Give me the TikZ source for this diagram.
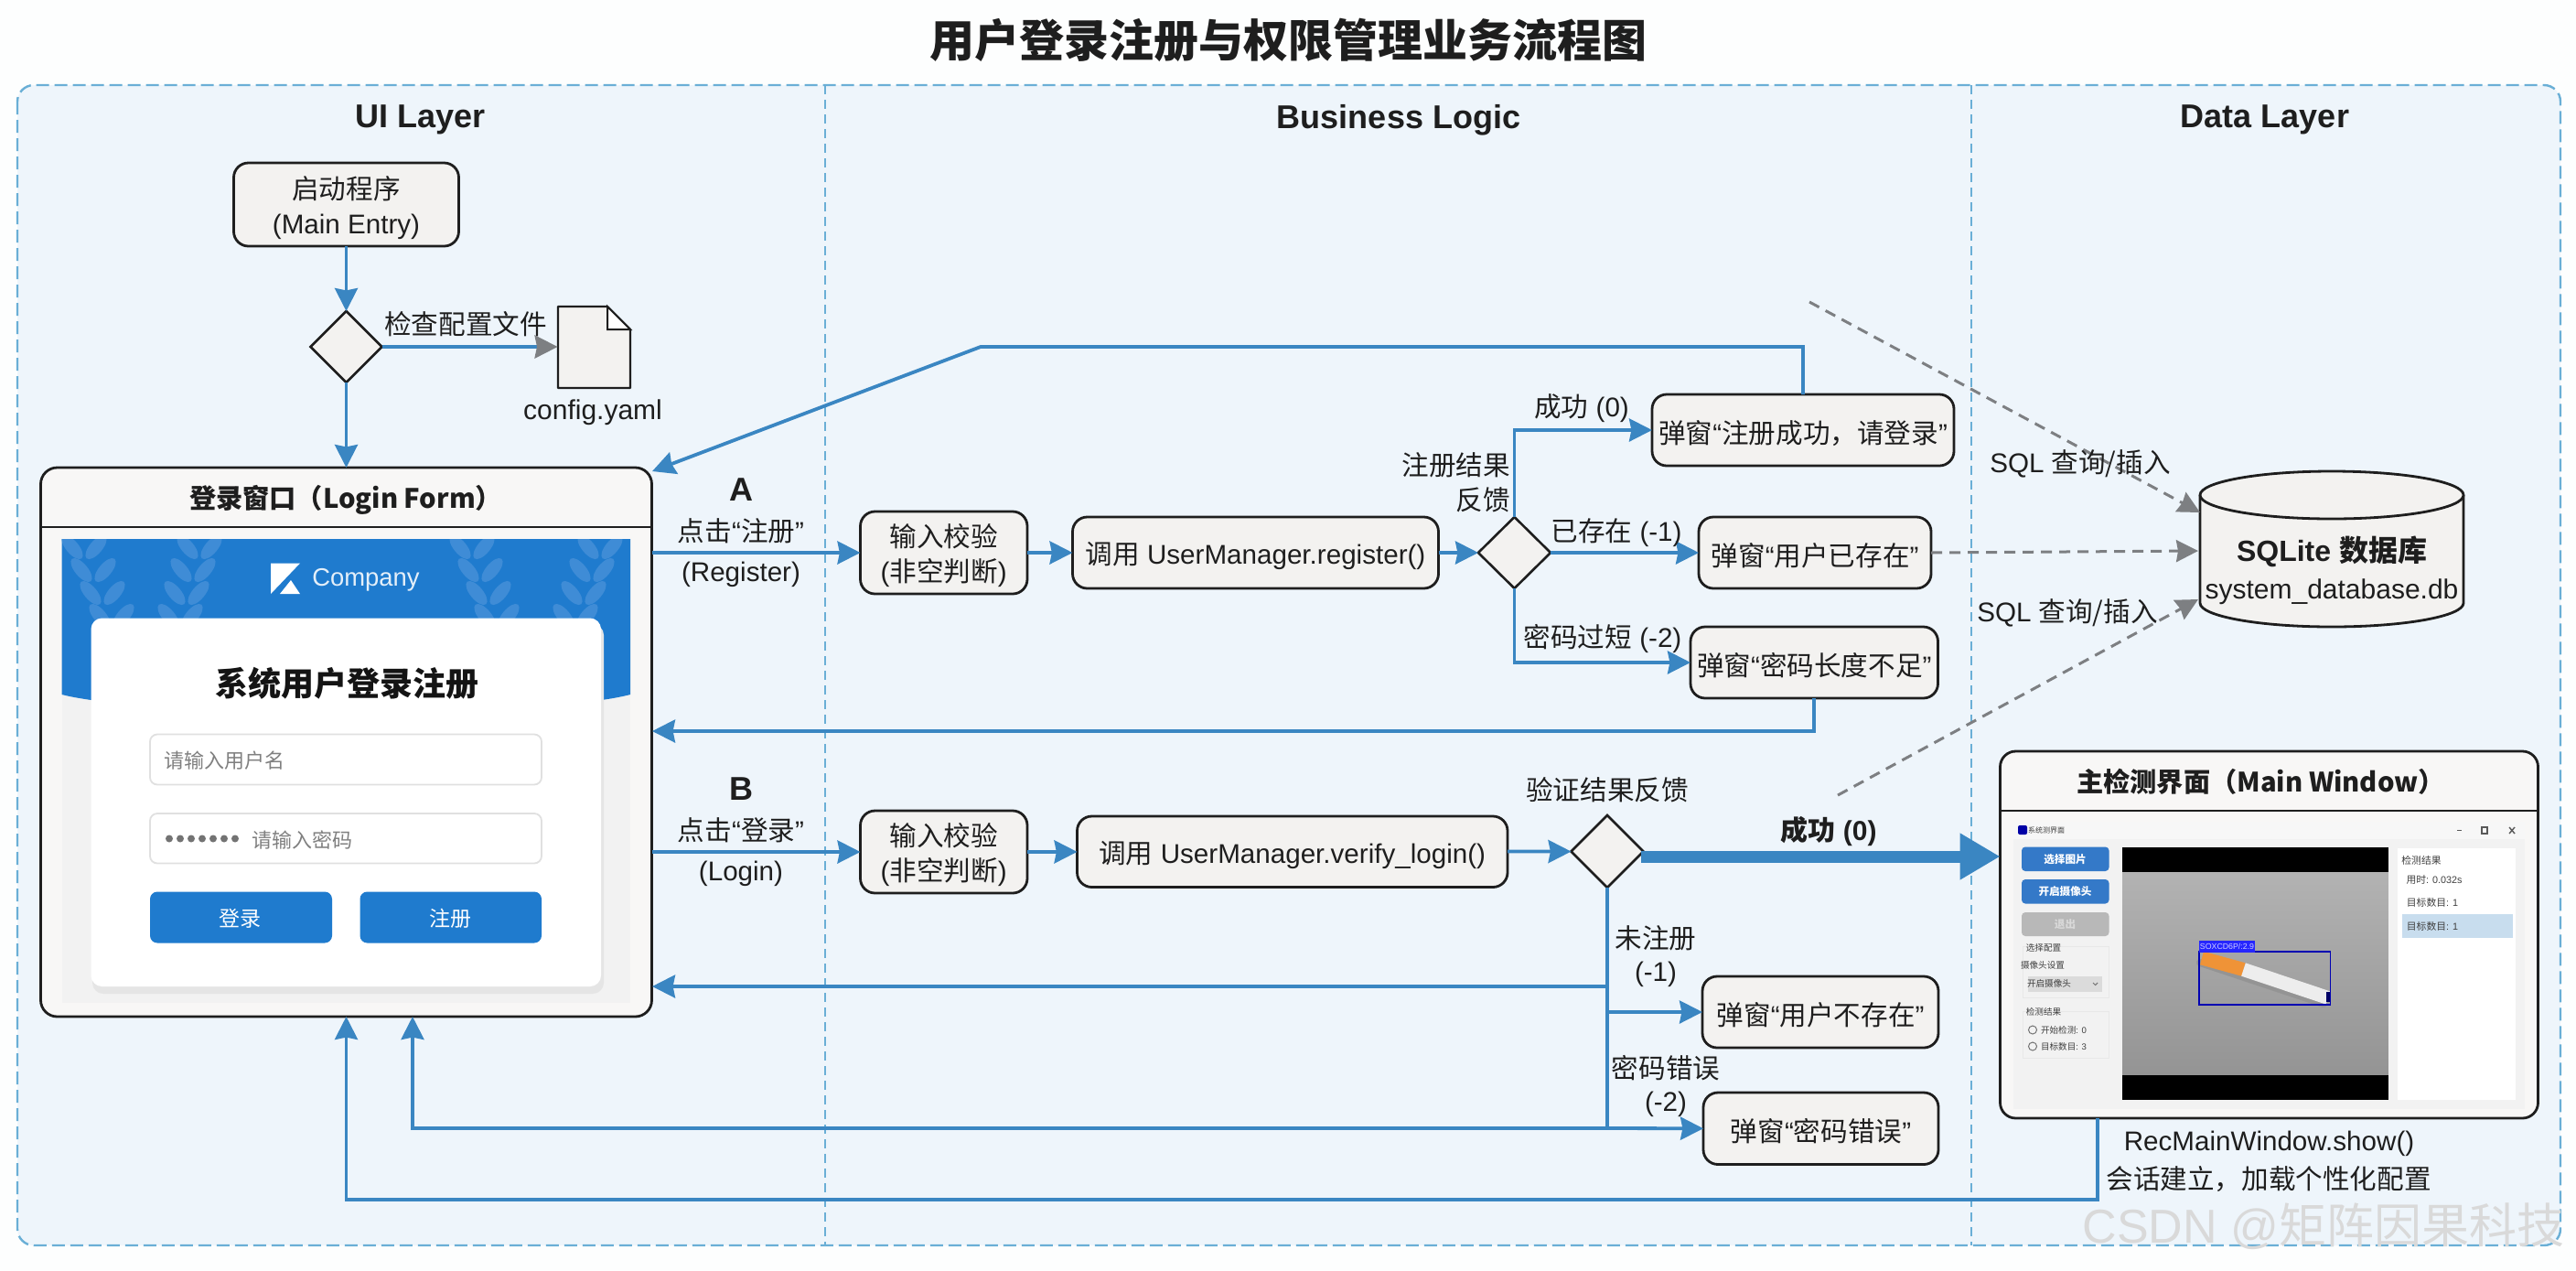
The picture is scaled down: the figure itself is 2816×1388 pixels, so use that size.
\documentclass[tikz,border=0pt]{standalone}
\usepackage{fontspec}
\setmainfont{Liberation Sans}
\newfontfamily\cjk{Noto Sans CJK SC}
\usetikzlibrary{arrows.meta,shapes.geometric,calc}
\newcommand\zh[1]{{\cjk #1}}
\newcommand\lf{\fontsize{14.8}{19}\selectfont}
\definecolor{pagebg}{HTML}{FDFEFE}
\definecolor{panelbg}{HTML}{EEF5FB}
\definecolor{framec}{HTML}{6AAFD6}
\definecolor{flowc}{HTML}{3A86C2}
\definecolor{boxfill}{HTML}{F3F2F0}
\definecolor{inkc}{HTML}{1E1E1E}
\definecolor{grayc}{HTML}{7D7F82}
\definecolor{hdrblue}{HTML}{1F7BCE}
\definecolor{leafc}{HTML}{3F8CD6}
\tikzset{
  flowbox/.style={draw=inkc,fill=boxfill,line width=1.4pt,rounded corners=8pt,inner sep=0pt,outer sep=0pt,align=center,font=\lf,text=inkc},
  flowdiamond/.style={draw=inkc,fill=boxfill,line width=1.3pt,diamond,inner sep=0pt,outer sep=0pt},
  lab/.style={inner sep=0pt,outer sep=0pt,font=\lf,text=inkc,align=center},
  head/.style={inner sep=0pt,font=\fontsize{18}{22}\selectfont\bfseries,text=inkc},
  flow/.style={draw=flowc,line width=1.9pt,-{Stealth[length=12.5pt,width=12.5pt,inset=1.2pt]}},
  flowline/.style={draw=flowc,line width=1.9pt},
  sqlarrow/.style={draw=grayc,line width=1.5pt,dash pattern=on 6pt off 4pt,-{Stealth[length=12pt,width=12pt,inset=1pt,color=grayc]}},
  ui/.style={inner sep=0pt,outer sep=0pt,font=\fontsize{4.8}{6}\selectfont,text=black!75},
  uir/.style={inner sep=0pt,outer sep=0pt,font=\fontsize{5.4}{6}\selectfont,text=black!75},
  uibtn/.style={inner sep=0pt,outer sep=0pt,font=\fontsize{5.8}{7}\selectfont\bfseries,text=white},
  leaf/.style={fill=leafc},
}
\newcommand\flowbx[6]{\node[flowbox,minimum width={(#4-#2)*0.5pt},minimum height={(#5-#3)*0.5pt}] (#1) at ({(#2+#4)/2},{(#3+#5)/2}) {\rule{0pt}{15.6pt}#6};}
\begin{document}
\begin{tikzpicture}[x=0.5pt,y=-0.5pt]
\useasboundingbox (0,0) rectangle (2816,1388);
\fill[pagebg] (0,0) rectangle (2816,1388);
% frame and lanes
\draw[framec,fill=panelbg,line width=1.2pt,dash pattern=on 7pt off 3pt,rounded corners=9pt] (19,93) rectangle (2799,1361);
\draw[framec,line width=.8pt,dash pattern=on 5pt off 3pt] (902,93) -- (902,1361);
\draw[framec,line width=.8pt,dash pattern=on 5pt off 3pt] (2155,93) -- (2155,1361);
% titles
\node[inner sep=0pt,font=\fontsize{24.5}{28}\selectfont\bfseries,text=inkc] (title) at (1408,44) {\zh{用户登录注册与权限管理业务流程图}};
\node[head] (laneA) at (460,131) {UI Layer};
\node[head] (laneB) at (1529,131) {Business Logic};
\node[head] (laneC) at (2476,131) {Data Layer};

% start
\flowbx{start}{255.5}{178}{501.5}{269}{\zh{启动程序}\\(Main Entry)}
\node[flowdiamond,minimum width=39pt,minimum height=39pt] (d0) at (378.5,379) {};
\node[lab] (chk) at (509,354) {\zh{检查配置文件}};
\node[inner sep=0pt,minimum width=39.5pt,minimum height=44pt] (doc) at (649.5,379) {};
\draw[draw=inkc,fill=boxfill,line width=1.2pt,line join=round] (610,335) -- (664,335) -- (689,360) -- (689,424) -- (610,424) -- cycle;
\draw[draw=inkc,line width=1pt,fill=white] (664,335) -- (664,360) -- (689,360) -- cycle;
\node[lab,font=\fontsize{15}{18}\selectfont] (cfg) at (648,451) {config.yaml};

% login form
\node[draw=inkc,fill=boxfill!60!white,line width=1.4pt,rounded corners=9pt,inner sep=0pt,outer sep=0pt,minimum width=334pt,minimum height=300pt] (form) at (378.5,811) {};
\draw[inkc,line width=1.2pt] (44.5,576) -- (712.5,576);
\node[inner sep=0pt,font=\fontsize{14.6}{18}\selectfont\bfseries,text=inkc] (formt) at (378,546) {\zh{登录窗口（Login Form）}};
\fill[black!5] (67.5,589) rectangle (689,1096);
\path[fill=hdrblue] (67.5,589) -- (689,589) -- (689,759) .. controls (590,785) and (170,785) .. (67.5,759) -- cycle;
\begin{scope}
\clip (67.5,589) rectangle (689,780);
\foreach \sx/\sl in {92/10,218/-7,516/9,656/-9}{
  \foreach \t in {0,...,3}{
    \pgfmathsetmacro\cx{\sx+\sl*\t}
    \pgfmathsetmacro\cy{598+25*\t}
    \fill[leaf,rotate around={-50:(\cx-13,\cy)}] (\cx-13,\cy) ellipse [x radius=16,y radius=7];
    \fill[leaf,rotate around={50:(\cx+13,\cy)}] (\cx+13,\cy) ellipse [x radius=16,y radius=7];
  }
}
\end{scope}
\fill[white] (296,615.5) -- (328,615.5) -- (296,649) -- cycle;
\fill[white] (306,649) -- (328,649) -- (318,634) -- cycle;
\node[inner sep=0pt,font=\fontsize{13.7}{16}\selectfont,text=white!88!hdrblue] (company) at (400,634) {Company};
\fill[black!10,rounded corners=6pt] (101,682) rectangle (660,1086);
\fill[white,rounded corners=6pt] (99.5,675.5) rectangle (657,1078);
\node[inner sep=0pt,font=\fontsize{18}{21}\selectfont\bfseries,text=black!92] (cardt) at (379,747) {\zh{系统用户登录注册}};
\draw[black!12,fill=white,line width=.9pt,rounded corners=4pt] (164,802.5) rectangle (592,857.5);
\draw[black!12,fill=white,line width=.9pt,rounded corners=4pt] (164,889) rectangle (592,943.5);
\node[inner sep=0pt,font=\fontsize{11}{13}\selectfont,text=black!50] (ph1) at (245.5,831) {\zh{请输入用户名}};
\node[inner sep=0pt,font=\fontsize{11}{13}\selectfont,text=black!50] (ph2) at (330,918) {\zh{请输入密码}};
\foreach \dx in {0,1,...,6}{\fill[black!55] ({185+12*\dx},916.5) circle (4);}
\fill[hdrblue,rounded corners=4pt] (164,974.5) rectangle (363,1030.5);
\fill[hdrblue,rounded corners=4pt] (393.5,974.5) rectangle (592,1030.5);
\node[inner sep=0pt,font=\fontsize{11.5}{13}\selectfont,text=white] (blogin) at (262.5,1004) {\zh{登录}};
\node[inner sep=0pt,font=\fontsize{11.5}{13}\selectfont,text=white] (breg) at (492.5,1004) {\zh{注册}};

% register row
\flowbx{chkA}{940.5}{559}{1123}{649}{\zh{输入校验}\\(\zh{非空判断})}
\flowbx{regcall}{1172.5}{565}{1572.5}{643}{\zh{调用} UserManager.register()}
\node[flowdiamond,minimum width=39.5pt,minimum height=39pt] (d1) at (1655.5,604) {};
\flowbx{ok}{1806}{431}{2136}{509}{\zh{弹窗}“\zh{注册成功，请登录}”}
\flowbx{exists}{1857}{565}{2111}{643}{\zh{弹窗}“\zh{用户已存在}”}
\flowbx{short}{1848}{685}{2118.5}{763}{\zh{弹窗}“\zh{密码长度不足}”}

% login row
\flowbx{chkB}{940.5}{886}{1123}{976}{\zh{输入校验}\\(\zh{非空判断})}
\flowbx{vercall}{1177.5}{892}{1648}{969.5}{\zh{调用} UserManager.verify\_login()}
\node[flowdiamond,minimum width=39.5pt,minimum height=39.5pt] (d2) at (1757,930.5) {};
\flowbx{nouser}{1861}{1067}{2119}{1145}{\zh{弹窗}“\zh{用户不存在}”}
\flowbx{pwerr}{1862}{1194}{2119}{1272.5}{\zh{弹窗}“\zh{密码错误}”}

% database
\node[inner sep=0pt,minimum width=144pt,minimum height=85pt] (db) at (2549,600) {};
\draw[draw=inkc,fill=boxfill,line width=1.4pt] (2405,541) -- (2405,659) arc[start angle=180,end angle=360,x radius=144,y radius=-26] -- (2693,541);
\draw[draw=inkc,fill=boxfill,line width=1.4pt] (2549,541) ellipse [x radius=144,y radius=26];
\node[inner sep=0pt,font=\fontsize{16}{19}\selectfont\bfseries,text=inkc] (dbt) at (2549,603) {SQLite \zh{数据库}};
\node[lab,font=\fontsize{15}{18}\selectfont] (dbf) at (2549,647) {system\_database.db};

% main window
\node[draw=inkc,fill=boxfill!60!white,line width=1.4pt,rounded corners=8.5pt,inner sep=0pt,outer sep=0pt,minimum width=294pt,minimum height=200.5pt] (main) at (2480.5,1021.5) {};
\draw[inkc,line width=1.2pt] (2186.5,886) -- (2774.5,886);
\node[inner sep=0pt,font=\fontsize{14.6}{18}\selectfont\bfseries,text=inkc] (maint) at (2471.5,854) {\zh{主检测界面（Main Window）}};
\fill[black!5] (2201,898) rectangle (2759.5,1212);
\fill[white!97!black] (2201,898) rectangle (2759.5,917);
\fill[blue!65!black,rounded corners=1pt] (2206,902) rectangle (2216,912);
\node[ui,font=\fontsize{4}{5}\selectfont] (wint) at (2237,907.5) {\zh{系统测界面}};
\draw[black!65,line width=.6pt] (2686,907.5) -- (2691,907.5);
\draw[black!65,line width=.7pt] (2713,904) rectangle (2719,911);
\draw[black!65,line width=.7pt] (2743,904) -- (2749,911) (2749,904) -- (2743,911);
\fill[flowc!90!blue,rounded corners=2pt] (2210,925.5) rectangle (2305.5,952);
\fill[flowc!90!blue,rounded corners=2pt] (2210,961) rectangle (2305.5,987.5);
\fill[black!28,rounded corners=2pt] (2210,997) rectangle (2305.5,1023);
\node[uibtn] (b1) at (2257.5,939) {\zh{选择图片}};
\node[uibtn] (b2) at (2257.5,974.5) {\zh{开启摄像头}};
\node[uibtn,text=white!85!black] (b3) at (2257.5,1010) {\zh{退出}};
\draw[black!9,line width=.5pt] (2211.5,1034) rectangle (2305,1090);
\draw[black!9,line width=.5pt] (2211.5,1105) rectangle (2305,1156);
\node[ui] (c1) at (2234,1036) {\zh{选择配置}};
\node[ui] (c2) at (2233,1055) {\zh{摄像头设置}};
\fill[black!14] (2217,1066.5) rectangle (2298,1084);
\node[ui] (c3) at (2240,1075) {\zh{开启摄像头}};
\draw[black!55,line width=.5pt] (2288,1074) -- (2290.5,1076.5) -- (2293,1074);
\node[ui] (c4) at (2234,1105.5) {\zh{检测结果}};
\draw[black!55,line width=.5pt] (2222,1125.5) circle (4.5);
\draw[black!55,line width=.5pt] (2222,1143.5) circle (4.5);
\node[ui] (c5) at (2256,1125.5) {\zh{开始检测}: 0};
\node[ui] (c6) at (2256,1143.5) {\zh{目标数目}: 3};
\shade[top color=black!30,middle color=black!22,bottom color=black!42] (2320,952) rectangle (2610.5,1176);
\fill[black] (2320,925.5) rectangle (2610.5,952.5);
\fill[black] (2320,1175) rectangle (2610.5,1202);
\draw[black!42,line width=4pt,line cap=round] (2405,1052) -- (2540,1097);
\draw[orange!70!brown!85!white,line width=7.5pt] (2407,1047) -- (2452.5,1059.5);
\draw[white!93!black,line width=7.5pt] (2452.5,1059.5) -- (2545,1090.5);
\fill[black!60!blue] (2543,1084) rectangle (2547,1095);
\draw[blue!70!black,line width=.6pt] (2404,1040) rectangle (2547.5,1098);
\fill[blue!85!white] (2404,1028) rectangle (2465,1040.5);
\node[inner sep=0pt,font=\fontsize{4.4}{5}\selectfont,text=white!80!blue] (detl) at (2434.5,1034.5) {SOXCD6P/:2.9};
\fill[white] (2620.5,926.5) rectangle (2750,1202);
\fill[flowc!28!white] (2625.5,999) rectangle (2747,1025);
\node[uir] (r1) at (2647,940.5) {\zh{检测结果}};
\node[uir] (r2) at (2661,961) {\zh{用时}: 0.032s};
\node[uir] (r3) at (2659,986.5) {\zh{目标数目}: 1};
\node[uir] (r4) at (2659,1012) {\zh{目标数目}: 1};
\node[lab] (rec) at (2480.5,1250) {RecMainWindow.show()};
\node[lab] (sess) at (2480,1289) {\zh{会话建立，加载个性化配置}};

% named way points
\coordinate (tr) at (1072,379);
\coordinate (formTop) at (713,515);
\coordinate (r1y) at (713,799);
\coordinate (y1078) at (713,1078);
\coordinate (j1) at (1757,1078);
\coordinate (j2) at (1757,1233);
\coordinate (k1) at (451,1233);
\coordinate (mb) at (2293,1222);
\coordinate (mc) at (2293,1311);
\coordinate (md) at (378.5,1311);
\coordinate (t0) at (1794,936);

% connectors
\draw[flow] (start) -- (d0);
\draw[flow] (d0) -- (form.north -| d0);
\draw[flow,-{Stealth[length=12.5pt,width=12.5pt,inset=1.2pt,color=grayc]}] (d0) -- (doc.west);
\draw[flow] (form.east |- chkA) -- (chkA);
\draw[flow] (chkA) -- (regcall);
\draw[flow] (regcall) -- (d1);
\draw[flow] (d1.north) |- (ok.west);
\draw[flow] (d1) -- (exists);
\draw[flow] (d1.south) |- (short.west);
\draw[flow] (ok.north) |- (tr) -- (formTop);
\draw[flow] (short.south) |- (r1y);
\draw[flow] (form.east |- chkB) -- (chkB);
\draw[flow] (chkB) -- (vercall);
\draw[flow] (vercall) -- (d2);
\draw[draw=flowc,line width=6.5pt,-{Triangle[length=22pt,width=24pt]}] (t0) -- (main.west |- t0);
\draw[flowline] (d2.south) -- (j2);
\draw[flow] (j1) -- (y1078);
\draw[flow] (d2.south) |- (nouser.west);
\draw[flow] (j2) -- (pwerr.west);
\draw[flow] (j2) -- (k1) -- (k1 |- form.south);
\draw[flow] (mb) -- (mc) -- (md) -- (form.south);

\coordinate (sql1a) at (1978,330);
\coordinate (sql1b) at (2405,560);
\coordinate (sql2b) at (2403,602);
\coordinate (sql3a) at (2009,869);
\coordinate (sql3b) at (2403,655);
\draw[sqlarrow] (sql1a) -- (sql1b);
\draw[sqlarrow] (exists.east) -- (sql2b);
\draw[sqlarrow] (sql3a) -- (sql3b);

% labels
\node[inner sep=0pt,font=\fontsize{18}{20}\selectfont\bfseries,text=inkc] (lA) at (810,535) {A};
\node[lab] (lA1) at (810,580) {\zh{点击}“\zh{注册}”};
\node[lab] (lA2) at (810,628) {(Register)};
\node[inner sep=0pt,font=\fontsize{18}{20}\selectfont\bfseries,text=inkc] (lB) at (810,862) {B};
\node[lab] (lB1) at (810,907) {\zh{点击}“\zh{登录}”};
\node[lab] (lB2) at (810,955) {(Login)};
\node[lab,align=right,anchor=east] (fb) at (1651,527) {\zh{注册结果}\\\zh{反馈}};
\node[lab] (s0) at (1729,446) {\zh{成功} (0)};
\node[lab] (s1) at (1767,582) {\zh{已存在} (-1)};
\node[lab] (s2) at (1752,698) {\zh{密码过短} (-2)};
\node[lab] (q1) at (2274,507) {SQL \zh{查询/插入}};
\node[lab] (q2) at (2260,670) {SQL \zh{查询/插入}};
\node[lab] (vf) at (1757,863) {\zh{验证结果反馈}};
\node[inner sep=0pt,font=\fontsize{15}{18}\selectfont\bfseries,text=inkc] (vok) at (1999,909) {\zh{成功} (0)};
\node[lab] (v1) at (1810,1025) {\zh{未注册}};
\node[lab] (v1b) at (1810,1065) {(-1)};
\node[lab] (v2) at (1821,1167) {\zh{密码错误}};
\node[lab] (v2b) at (1821,1207) {(-2)};
% watermark
\node[inner sep=0pt,font=\fontsize{26}{30}\selectfont,text=black!15] (wm) at (2540,1340) {CSDN @\zh{矩阵因果科技}};
\end{tikzpicture}
\end{document}
